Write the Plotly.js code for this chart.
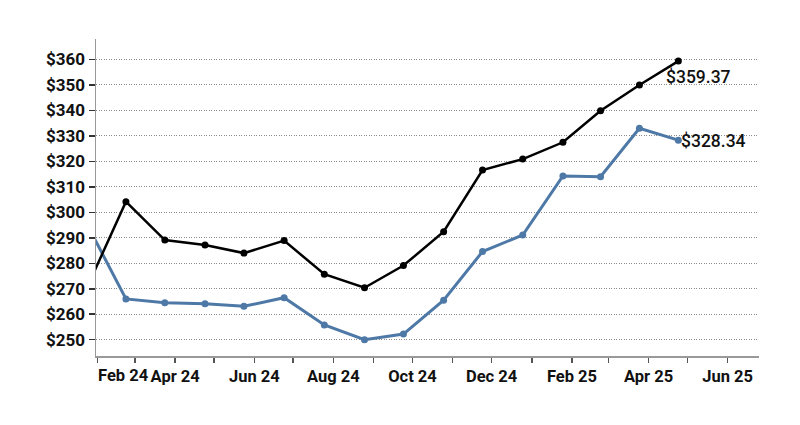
<!DOCTYPE html>
<html>
<head>
<meta charset="utf-8">
<script src="https://cdn.plot.ly/plotly-3.0.1.min.js"></script>
<style>html,body{margin:0;padding:0;background:#fff;}#chart{width:800px;height:425px;}</style>
</head>
<body>
<div id="chart"></div>
<script>
const dates = ["2024-01-24","2024-02-23","2024-03-24","2024-04-24","2024-05-24","2024-06-24","2024-07-25","2024-08-25","2024-09-24","2024-10-25","2024-11-24","2024-12-25","2025-01-25","2025-02-23","2025-03-25","2025-04-24"];
const blackSeries = [270.5,304.2,289.1,287.2,284.0,288.9,275.7,270.4,279.1,292.4,316.6,320.9,327.5,339.9,350.0,359.37];
const blueSeries  = [295.3,266.0,264.5,264.1,263.1,266.5,255.8,250.0,252.2,265.5,284.6,291.1,314.3,314.0,333.0,328.34];
const tickDates = ["2024-02-01","2024-03-01","2024-04-01","2024-05-01","2024-06-01","2024-07-01","2024-08-01","2024-09-01","2024-10-01","2024-11-01","2024-12-01","2025-01-01","2025-02-01","2025-03-01","2025-04-01","2025-05-01","2025-06-01"];
const tickLabels = ["Feb 24","","Apr 24","","Jun 24","","Aug 24","","Oct 24","","Dec 24","","Feb 25","","Apr 25","","Jun 25"];
const yTicks = [250,260,270,280,290,300,310,320,330,340,350,360];

const font = "Roboto, 'Open Sans', sans-serif";
const blue = "#4e79a7";
const fmt = v => "$" + v.toFixed(2);

const traces = [
  {x: dates, y: blueSeries, type: "scatter", mode: "lines+markers",
   line: {color: blue, width: 3}, marker: {color: blue, size: 7}, hoverinfo: "skip"},
  {x: dates, y: blackSeries, type: "scatter", mode: "lines+markers",
   line: {color: "#000", width: 2.5}, marker: {color: "#000", size: 7}, hoverinfo: "skip"}
];

const n = dates.length - 1;
const layout = {
  width: 800, height: 425,
  margin: {l: 96, r: 41, t: 39, b: 69},
  paper_bgcolor: "#fff", plot_bgcolor: "#fff",
  showlegend: false,
  font: {family: font, size: 16, color: "#111"},
  xaxis: {
    type: "date",
    range: ["2024-01-30 22:00", "2025-06-25 05:00"],
    tickmode: "array", tickvals: tickDates,
    ticktext: tickLabels.map((t, i) => i === 0 ? "" : t),
    showgrid: false, zeroline: false,
    showline: true, linecolor: "#999", linewidth: 1.5,
    ticks: "outside", ticklen: 5, tickcolor: "#555", tickwidth: 1.5,
    tickfont: {family: font, size: 16.5, color: "#111", weight: 700}
  },
  yaxis: {
    range: [243.6, 368.05],
    tickmode: "array", tickvals: yTicks,
    ticktext: yTicks.map(v => "$" + v),
    showgrid: true, gridcolor: "#8c8c8c", griddash: "1px,1.5px", gridwidth: 1,
    zeroline: false,
    showline: true, linecolor: "#999", linewidth: 1.5,
    ticks: "outside", ticklen: 6, tickcolor: "#333", tickwidth: 1.5,
    tickfont: {family: font, size: 17, color: "#111", weight: 700}
  },
  annotations: [
    {x: tickDates[0], y: 0, xref: "x", yref: "paper", yanchor: "top", xanchor: "left",
     yshift: -8, xshift: -1, text: tickLabels[0], showarrow: false,
     font: {family: font, size: 16.5, color: "#111", weight: 700}},
    {x: dates[n], y: blackSeries[n], xref: "x", yref: "y", xanchor: "left", yanchor: "top",
     xshift: -14, yshift: -4, text: fmt(blackSeries[n]), showarrow: false,
     font: {family: font, size: 17.5, color: "#111", weight: 500}},
    {x: dates[n], y: blueSeries[n], xref: "x", yref: "y", xanchor: "left", yanchor: "middle",
     xshift: 1, yshift: -1, text: fmt(blueSeries[n]), showarrow: false,
     font: {family: font, size: 17.5, color: "#111", weight: 500}}
  ]
};

Plotly.newPlot("chart", traces, layout, {displayModeBar: false, staticPlot: true});
</script>
</body>
</html>
